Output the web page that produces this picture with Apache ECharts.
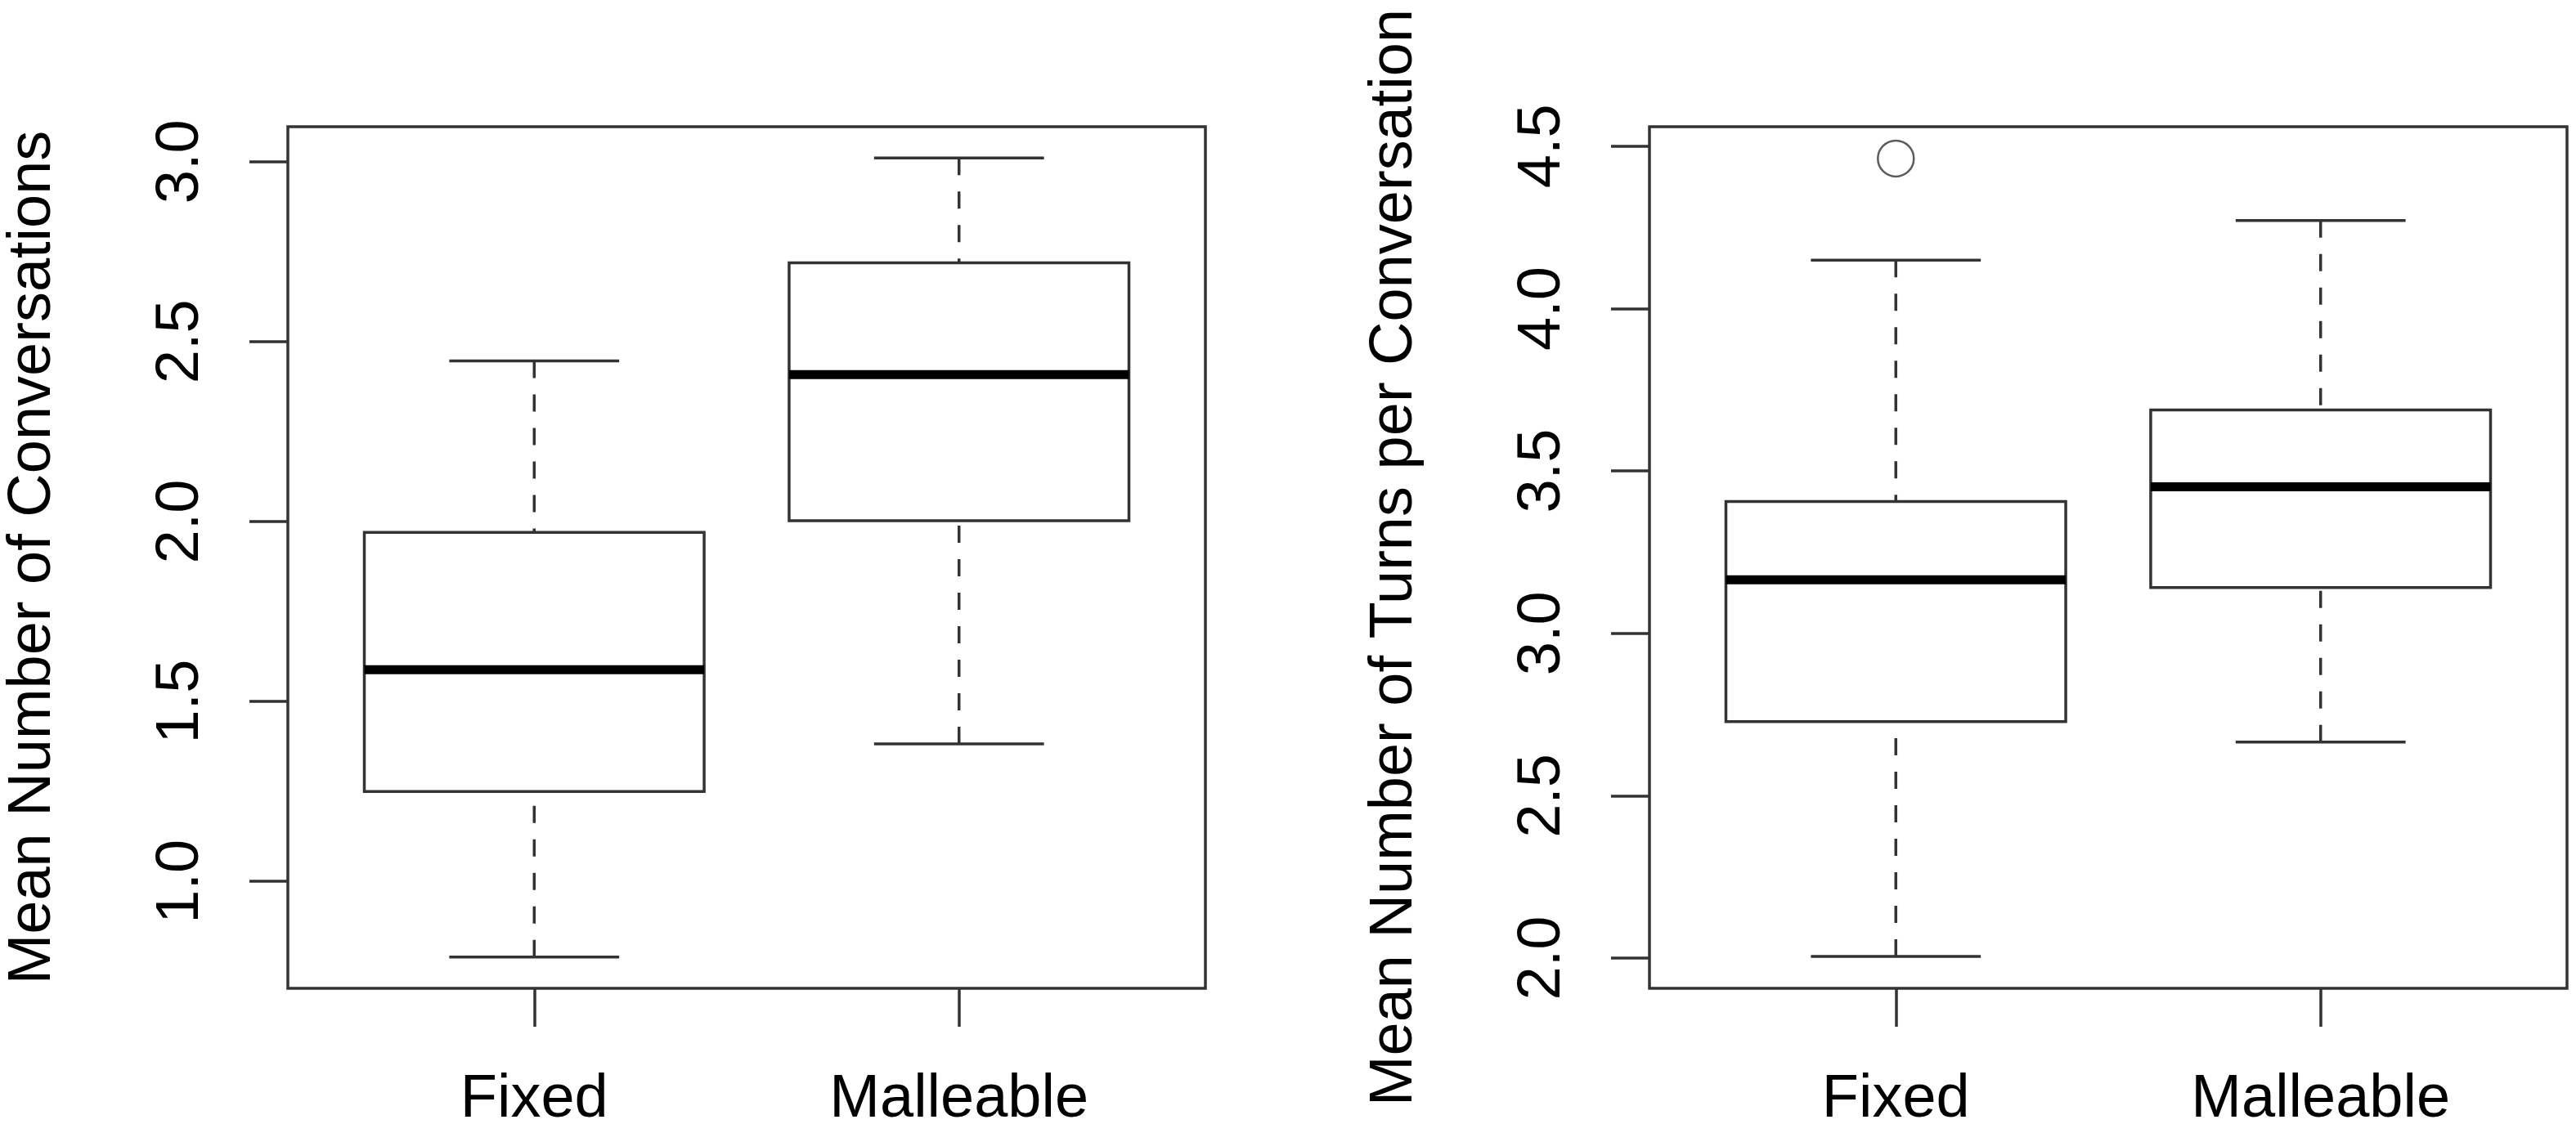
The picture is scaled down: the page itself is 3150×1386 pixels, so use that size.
<!DOCTYPE html>
<html>
<head>
<meta charset="utf-8">
<script src="https://cdn.jsdelivr.net/npm/echarts@6/dist/echarts.min.js"></script>
<style>
  html, body { margin: 0; padding: 0; background: #fff; }
  #chart { width: 3150px; height: 1386px; }
</style>
</head>
<body>
<div id="chart"></div>
<script>
// data: [lower whisker, Q1, median, Q3, upper whisker]
var categories = ['Fixed', 'Malleable'];
var convStats = [
    [0.79, 1.25, 1.588, 1.97, 2.446],
    [1.382, 2.002, 2.408, 2.719, 3.01]
];
var turnStats = [
    [2.005, 2.728, 3.165, 3.406, 4.149],
    [2.665, 3.141, 3.451, 3.688, 4.271]
];
var turnOutliers = [[1, 4.462]];   // [category position, value]
var convTicks = [1.0, 1.5, 2.0, 2.5, 3.0];
var turnTicks = [2.0, 2.5, 3.0, 3.5, 4.0, 4.5];

var LINE = '#333';
var FONT = 'Liberation Sans';
var BOX_WIDTH = 0.8;   // in category units, like R's boxplot
var CAP_WIDTH = 0.4;

function boxData(stats) {
    return stats.map(function (s, i) {
        return [i + 1].concat(s);
    });
}

function renderBox(params, api) {
    var x = api.value(0);
    var lo = api.coord([x, api.value(1)]);
    var q1 = api.coord([x, api.value(2)]);
    var md = api.coord([x, api.value(3)]);
    var q3 = api.coord([x, api.value(4)]);
    var hi = api.coord([x, api.value(5)]);
    var cx = lo[0];
    var boxHalf = api.size([BOX_WIDTH, 0])[0] / 2;
    var capHalf = api.size([CAP_WIDTH, 0])[0] / 2;
    var thin = { stroke: LINE, lineWidth: 3.5 };
    var dashed = { stroke: LINE, lineWidth: 3.5, lineDash: [21, 20] };
    return {
        type: 'group',
        children: [
            // whiskers start at the extremes, like R
            { type: 'line', shape: { x1: cx, y1: hi[1], x2: cx, y2: q3[1] }, style: dashed },
            { type: 'line', shape: { x1: cx, y1: lo[1], x2: cx, y2: q1[1] }, style: dashed },
            { type: 'line', shape: { x1: cx - capHalf, y1: hi[1], x2: cx + capHalf, y2: hi[1] }, style: thin },
            { type: 'line', shape: { x1: cx - capHalf, y1: lo[1], x2: cx + capHalf, y2: lo[1] }, style: thin },
            {
                type: 'rect',
                shape: { x: cx - boxHalf, y: q3[1], width: boxHalf * 2, height: q1[1] - q3[1] },
                style: { fill: '#fff', stroke: LINE, lineWidth: 3.5 }
            },
            { type: 'line', shape: { x1: cx - boxHalf, y1: md[1], x2: cx + boxHalf, y2: md[1] }, style: { stroke: '#000', lineWidth: 11 } }
        ]
    };
}

function xAxisFor(gridIndex) {
    return {
        type: 'value',
        gridIndex: gridIndex,
        min: 0.42,
        max: 2.58,
        splitLine: { show: false },
        axisLine: { show: false },
        axisTick: { show: true, length: 47, customValues: [1, 2], lineStyle: { color: LINE, width: 3.5 } },
        axisLabel: {
            customValues: [1, 2],
            margin: 100,
            color: '#000',
            fontFamily: FONT,
            fontSize: 74,
            formatter: function (v) { return categories[Math.round(v) - 1]; }
        }
    };
}

function yAxisFor(gridIndex, name, min, max, ticks) {
    return {
        type: 'value',
        gridIndex: gridIndex,
        min: min,
        max: max,
        name: name,
        nameLocation: 'middle',
        nameRotate: 90,
        nameGap: 274,
        nameTextStyle: { color: '#000', fontFamily: FONT, fontSize: 74 },
        splitLine: { show: false },
        axisLine: { show: false },
        axisTick: { show: true, length: 47, customValues: ticks, lineStyle: { color: LINE, width: 3.5 } },
        axisLabel: {
            customValues: ticks,
            rotate: 90,
            margin: 93,
            color: '#000',
            fontFamily: FONT,
            fontSize: 74,
            formatter: function (v) { return v.toFixed(1); }
        }
    };
}

var chart = echarts.init(document.getElementById('chart'));
var option = {
    backgroundColor: '#fff',
    animation: false,
    grid: [
        { left: 352, top: 155, width: 1122, height: 1054, show: true, borderColor: LINE, borderWidth: 3.5, backgroundColor: 'transparent' },
        { left: 2017, top: 155, width: 1122, height: 1054, show: true, borderColor: LINE, borderWidth: 3.5, backgroundColor: 'transparent' }
    ],
    xAxis: [xAxisFor(0), xAxisFor(1)],
    yAxis: [
        yAxisFor(0, 'Mean Number of Conversations', 0.703, 3.097, convTicks),
        yAxisFor(1, 'Mean Number of Turns per Conversation', 1.907, 4.56, turnTicks)
    ],
    series: [
        {
            type: 'custom',
            xAxisIndex: 0,
            yAxisIndex: 0,
            renderItem: renderBox,
            encode: { x: 0, y: [1, 2, 3, 4, 5] },
            data: boxData(convStats)
        },
        {
            type: 'custom',
            xAxisIndex: 1,
            yAxisIndex: 1,
            renderItem: renderBox,
            encode: { x: 0, y: [1, 2, 3, 4, 5] },
            data: boxData(turnStats)
        },
        {
            type: 'scatter',
            xAxisIndex: 1,
            yAxisIndex: 1,
            symbol: 'circle',
            symbolSize: 44,
            itemStyle: { color: '#fff', borderColor: LINE, borderWidth: 2.5 },
            data: turnOutliers
        }
    ]
};
chart.setOption(option);
</script>
</body>
</html>
